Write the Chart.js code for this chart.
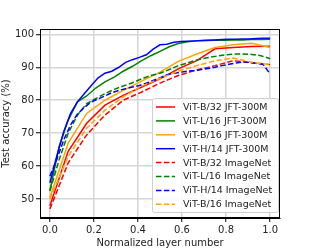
<!DOCTYPE html>
<html>
<head>
<meta charset="utf-8">
<script src="https://cdn.jsdelivr.net/npm/chart.js@4.4.1/dist/chart.umd.min.js"></script>
<style>
  html, body { margin: 0; padding: 0; background: #fff; }
  #wrap { width: 312px; height: 249px; position: relative; }
</style>
</head>
<body>
<div id="wrap"><canvas id="chart"></canvas></div>
<script>
// layer positions (normalized) for the three model depths
const xB = [0, 0.083, 0.167, 0.25, 0.333, 0.417, 0.5, 0.583, 0.667, 0.75, 0.833, 0.917, 1];
const xL = [0, 0.042, 0.083, 0.125, 0.167, 0.208, 0.25, 0.292, 0.333, 0.375, 0.417, 0.458, 0.5,
            0.542, 0.583, 0.625, 0.667, 0.708, 0.75, 0.792, 0.833, 0.875, 0.917, 0.958, 1];
const xH = [0, 0.031, 0.063, 0.094, 0.125, 0.156, 0.188, 0.219, 0.25, 0.281, 0.313, 0.344, 0.375,
            0.406, 0.438, 0.469, 0.5, 0.531, 0.563, 0.594, 0.625, 0.656, 0.688, 0.719, 0.75,
            0.781, 0.813, 0.844, 0.875, 0.906, 0.938, 0.969, 1];

// test accuracy (%)
const b32Jft = [48, 64.5, 73, 78.5, 81.5, 84, 86.5, 89.5, 92, 95.6, 96, 96.3, 96.4];
const l16Jft = [52.5, 66, 74, 79.5, 81.3, 83.7, 85.6, 87, 88.8, 90.3, 92, 93.5, 94.8,
                96.2, 97.2, 97.7, 98, 98.1, 98.2, 98.2, 98.3, 98.3, 98.4, 98.4, 98.5];
const b16Jft = [50.5, 67, 76, 80, 83, 85.8, 88.5, 91.8, 94, 96, 96.8, 97.3, 96];
const h14Jft = [55, 63, 70.5, 76, 79.5, 82, 84.5, 86.8, 88.2, 88.8, 90, 91.5, 92.3,
                93, 93.8, 95.5, 96.8, 97, 97.6, 97.8, 97.9, 98, 98.1, 98.2, 98.3,
                98.4, 98.5, 98.5, 98.6, 98.6, 98.7, 98.8, 98.8];
const b32In = [47, 61, 69.5, 75.5, 80, 82.5, 85.2, 87.5, 89.2, 90.5, 92, 91.3, 90.8];
const l16In = [52.5, 62, 70, 75.5, 79, 80.5, 82, 83.3, 84.3, 85.3, 86.5, 87.5, 88.2,
               89.3, 90.5, 91.3, 92.2, 92.8, 93.3, 93.7, 94, 94, 93.9, 93.5, 92.6];
const h14In = [57, 62, 68, 72.5, 75.8, 77.8, 79.5, 80.4, 81.3, 82.3, 83, 83.5, 84,
               84.5, 85.2, 86, 86.8, 87.7, 88.2, 88.5, 88.8, 89, 89.3, 89.6, 90,
               90.5, 90.9, 91.3, 91.6, 91.5, 91.2, 90.8, 88];
const b16In = [50, 63, 71.5, 77, 81, 84.3, 86.6, 88.8, 90.5, 92, 92.8, 91.5, 90.8];

const xTicks = [0, 0.2, 0.4, 0.6, 0.8, 1.0];
const yTicks = [50, 60, 70, 80, 90, 100];

const series = [
  { label: 'ViT-B/32 JFT-300M', xs: xB, ys: b32Jft, color: '#ff0000', dash: [] },
  { label: 'ViT-L/16 JFT-300M', xs: xL, ys: l16Jft, color: '#008000', dash: [] },
  { label: 'ViT-B/16 JFT-300M', xs: xB, ys: b16Jft, color: '#ffa500', dash: [] },
  { label: 'ViT-H/14 JFT-300M', xs: xH, ys: h14Jft, color: '#0000ff', dash: [] },
  { label: 'ViT-B/32 ImageNet', xs: xB, ys: b32In, color: '#ff0000', dash: [5.5, 2.4] },
  { label: 'ViT-L/16 ImageNet', xs: xL, ys: l16In, color: '#008000', dash: [5.5, 2.4] },
  { label: 'ViT-H/14 ImageNet', xs: xH, ys: h14In, color: '#0000ff', dash: [5.5, 2.4] },
  { label: 'ViT-B/16 ImageNet', xs: xB, ys: b16In, color: '#ffa500', dash: [5.5, 2.4] }
];

const FONT = 'DejaVu Sans';

// frame around the plot plus a matplotlib-like legend box
const framePlugin = {
  id: 'frame',
  afterDraw(chart) {
    const { ctx, chartArea: a } = chart;
    ctx.save();
    ctx.strokeStyle = '#000';
    ctx.lineWidth = 1;
    ctx.strokeRect(Math.round(a.left) + 0.5, Math.round(a.top) + 0.5,
                   Math.round(a.right - a.left) - 1, Math.round(a.bottom - a.top) - 1);

    // legend
    const bx = a.left + 112, by = a.top + 69, bw = 126, bh = 114;
    ctx.fillStyle = 'rgba(255,255,255,0.85)';
    ctx.strokeStyle = '#d0d0d0';
    ctx.beginPath();
    ctx.roundRect(bx + 0.5, by + 0.5, bw, bh, 2);
    ctx.fill();
    ctx.stroke();
    ctx.font = '9.5px "' + FONT + '"';
    ctx.textBaseline = 'middle';
    chart.data.datasets.forEach((ds, i) => {
      const y = by + 9 + i * 13.9;
      ctx.strokeStyle = ds.borderColor;
      ctx.lineWidth = 1.5;
      ctx.setLineDash(ds.borderDash);
      ctx.beginPath();
      ctx.moveTo(bx + 4, y);
      ctx.lineTo(bx + 23, y);
      ctx.stroke();
      ctx.setLineDash([]);
      ctx.fillStyle = '#222';
      ctx.fillText(ds.label, bx + 31, y + 0.5);
    });
    ctx.restore();
  }
};

new Chart(document.getElementById('chart'), {
  type: 'scatter',
  data: {
    datasets: series.map((s, i) => ({
      label: s.label,
      data: s.xs.map((x, k) => ({ x: x, y: s.ys[k] })),
      showLine: true,
      borderColor: s.color,
      backgroundColor: s.color,
      borderWidth: 1.5,
      borderDash: s.dash,
      pointRadius: 0,
      tension: 0,
      order: series.length - i
    }))
  },
  options: {
    responsive: true,
    maintainAspectRatio: false,
    animation: false,
    layout: { padding: { top: 29, right: 32, left: 0, bottom: 0 } },
    plugins: { legend: { display: false }, tooltip: { enabled: false } },
    scales: {
      x: {
        type: 'linear',
        min: -0.045,
        max: 1.045,
        afterBuildTicks: (axis) => { axis.ticks = xTicks.map(v => ({ value: v })); },
        afterFit: (axis) => { axis.height = 31; },
        grid: { color: '#d6d6d6', lineWidth: 1.5, tickColor: '#000', tickLength: 4, tickWidth: 1 },
        border: { color: '#000' },
        ticks: { color: '#222', font: { family: FONT, size: 10 }, padding: 2,
                 maxRotation: 0, callback: (v) => Number(v).toFixed(1) },
        title: { display: true, text: 'Normalized layer number', color: '#222',
                 font: { family: FONT, size: 10 }, padding: { top: 1, bottom: 0 } }
      },
      y: {
        type: 'linear',
        min: 44.3,
        max: 101.6,
        afterBuildTicks: (axis) => { axis.ticks = yTicks.map(v => ({ value: v })); },
        afterFit: (axis) => { axis.width = 40; },
        grid: { color: '#d6d6d6', lineWidth: 1.5, tickColor: '#000', tickLength: 4, tickWidth: 1 },
        border: { color: '#000' },
        ticks: { color: '#222', font: { family: FONT, size: 10 }, padding: 2 },
        title: { display: true, text: 'Test accuracy (%)', color: '#222',
                 font: { family: FONT, size: 10 }, padding: { top: 0, bottom: 2 } }
      }
    }
  },
  plugins: [framePlugin]
});
</script>
</body>
</html>
